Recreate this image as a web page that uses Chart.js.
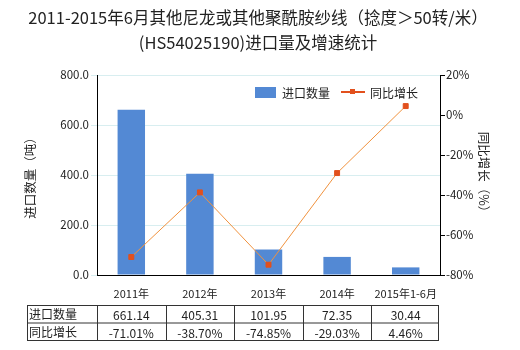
<!DOCTYPE html>
<html>
<head>
<meta charset="utf-8">
<script src="https://cdn.jsdelivr.net/npm/chart.js@4/dist/chart.umd.min.js"></script>
<style>
  body { margin: 0; background: #fff; }
  #wrap { width: 520px; height: 350px; }
</style>
</head>
<body>
<div id="wrap"><canvas id="myChart" width="520" height="350"></canvas></div>
<script>
// data
var years = ["2011年", "2012年", "2013年", "2014年", "2015年1-6月"];
var importQty = [661.14, 405.31, 101.95, 72.35, 30.44];
var growth = [-71.01, -38.70, -74.85, -29.03, 4.46];
var qtyTicks = [0, 200, 400, 600, 800];
var growthTicks = [-80, -60, -40, -20, 0, 20];

var FONT = "'Noto Sans CJK SC', 'Noto Sans', sans-serif";
var barColor = "#5389d4";
var lineColor = "#f0923e";
var dotColor = "#e2501d";

// title, legend, axis titles and the data table under the axis
var extras = {
  id: "extras",
  afterDraw: function(chart) {
    var c = chart.ctx;
    var area = chart.chartArea;
    var xs = chart.scales.x;
    c.save();
    c.fillStyle = "#222";
    c.textAlign = "center";
    c.textBaseline = "middle";
    c.font = "16.5px " + FONT;
    c.fillText("2011-2015年6月其他尼龙或其他聚酰胺纱线（捻度＞50转/米）", 258, 18);
    c.fillText("(HS54025190)进口量及增速统计", 258, 43);

    // legend
    c.font = "12px " + FONT;
    c.textAlign = "left";
    c.fillStyle = barColor;
    c.fillRect(255, 87, 21, 11);
    c.fillStyle = "#222";
    c.fillText("进口数量", 282, 93);
    c.strokeStyle = dotColor;
    c.lineWidth = 2;
    c.beginPath(); c.moveTo(341, 92); c.lineTo(365, 92); c.stroke();
    c.fillStyle = dotColor;
    c.fillRect(350, 89, 5, 5);
    c.fillStyle = "#222";
    c.fillText("同比增长", 370, 93);

    // axis titles
    c.font = "12.5px " + FONT;
    c.textAlign = "center";
    c.save();
    c.translate(30, 175);
    c.rotate(-Math.PI / 2);
    c.fillText("进口数量（吨）", 0, 0);
    c.restore();
    c.save();
    c.translate(484, 175);
    c.rotate(Math.PI / 2);
    c.fillText("同比增长（%）", 0, 0);
    c.restore();

    // table
    var step = (area.right - area.left) / years.length;
    var left = 27, top = 305, rowH = 17.5;
    c.strokeStyle = "#333";
    c.lineWidth = 1;
    c.strokeRect(left + 0.5, top + 0.5, area.right - left - 2, rowH * 2);
    c.beginPath();
    c.moveTo(left, top + rowH + 0.5); c.lineTo(area.right - 2, top + rowH + 0.5);
    c.moveTo(area.left + 0.5, top); c.lineTo(area.left + 0.5, top + rowH * 2);
    for (var i = 1; i < years.length; i++) {
      var bx = Math.round(area.left + step * i) + 0.5;
      c.moveTo(bx, top); c.lineTo(bx, top + rowH * 2);
    }
    c.stroke();
    c.font = "12px " + FONT;
    c.fillStyle = "#222";
    c.textAlign = "left";
    c.fillText("进口数量", left + 2, top + rowH / 2 + 1);
    c.fillText("同比增长", left + 2, top + rowH * 1.5 + 1);
    c.textAlign = "center";
    for (var j = 0; j < years.length; j++) {
      var cx = xs.getPixelForValue(j);
      c.fillText(importQty[j].toFixed(2), cx, top + rowH / 2 + 2);
      c.fillText(growth[j].toFixed(2) + "%", cx, top + rowH * 1.5 + 2);
    }
    c.restore();
  }
};

var myChart = new Chart("myChart", {
  data: {
    labels: years,
    datasets: [
      {
        type: "line",
        label: "同比增长",
        data: growth,
        yAxisID: "y1",
        borderColor: lineColor,
        borderWidth: 1,
        pointStyle: "rect",
        pointRadius: 3.5,
        pointBackgroundColor: dotColor,
        pointBorderColor: dotColor,
        tension: 0,
        order: 0
      },
      {
        type: "bar",
        label: "进口数量",
        data: importQty,
        yAxisID: "y",
        backgroundColor: barColor,
        categoryPercentage: 1,
        barPercentage: 0.4,
        order: 1
      }
    ]
  },
  options: {
    responsive: false,
    animation: false,
    layout: { padding: { top: 75, left: 0, right: 0, bottom: 0 } },
    plugins: { legend: { display: false }, tooltip: { enabled: false } },
    scales: {
      x: {
        grid: { display: false },
        border: { color: "#000" },
        ticks: { color: "#222", font: { family: FONT, size: 11 }, maxRotation: 0, autoSkip: false, padding: 4 },
        afterFit: function(s) { s.height = 75; }
      },
      y: {
        position: "left",
        min: 0, max: 800,
        afterBuildTicks: function(s) { s.ticks = qtyTicks.map(function(v) { return { value: v }; }); },
        grid: { color: "#d8eef0", tickColor: "#d8eef0", tickLength: 6 },
        border: { color: "#000" },
        ticks: {
          color: "#222", font: { family: FONT, size: 11.5 }, padding: 2,
          callback: function(v) { return v.toFixed(1); }
        },
        afterFit: function(s) { s.width = 97; }
      },
      y1: {
        position: "right",
        min: -80, max: 20,
        afterBuildTicks: function(s) { s.ticks = growthTicks.map(function(v) { return { value: v }; }); },
        grid: { drawOnChartArea: false, color: "#000", tickLength: 5 },
        border: { color: "#000" },
        ticks: {
          color: "#222", font: { family: FONT, size: 11.5 }, padding: 1,
          callback: function(v) { return v + "%"; }
        },
        afterFit: function(s) { s.width = 80; }
      }
    }
  },
  plugins: [extras]
});
</script>
</body>
</html>
